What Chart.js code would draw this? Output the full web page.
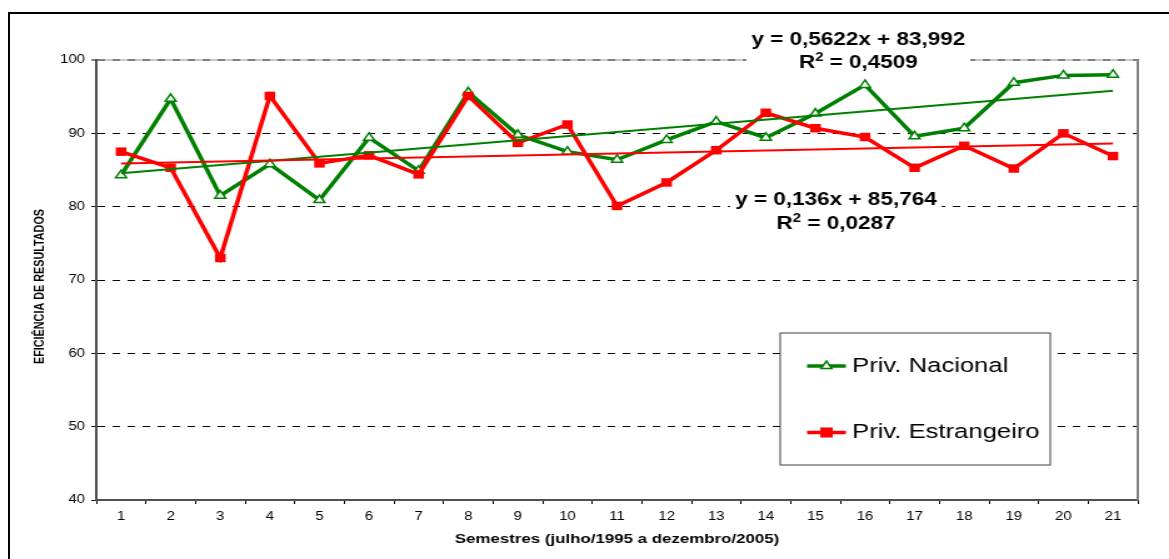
<!DOCTYPE html>
<html>
<head>
<meta charset="utf-8">
<script src="https://cdn.jsdelivr.net/npm/chart.js@4.4.1/dist/chart.umd.min.js"></script>
<style>
    html, body { margin: 0; padding: 0; background: #fff; overflow: hidden; }
    #frame { position: absolute; left: 8px; top: 12px; width: 1200px; height: 600px; border: 2px solid #000; }
    /* the source picture is stretched sideways, so the chart is drawn narrow and scaled */
    #wrap { position: absolute; left: 0; top: 0; width: 935px; height: 559px; transform: scale(1.2503, 1); transform-origin: 0 0; }
</style>
</head>
<body>
<div id="frame"></div>
<div id="wrap"><canvas id="chart" width="935" height="559"></canvas></div>
<script>
// Data
const semestres = ['1', '2', '3', '4', '5', '6', '7', '8', '9', '10', '11',
    '12', '13', '14', '15', '16', '17', '18', '19', '20', '21'];
const privNacional = [84.3, 94.7, 81.5, 85.8, 80.9, 89.4, 84.9, 95.6, 89.8, 87.5, 86.4,
    89.1, 91.6, 89.4, 92.7, 96.6, 89.6, 90.7, 96.9, 97.9, 98.0];
const privEstrangeiro = [87.5, 85.3, 73.0, 95.1, 85.9, 87.0, 84.4, 95.1, 88.7, 91.2, 80.1,
    83.3, 87.7, 92.8, 90.7, 89.5, 85.3, 88.3, 85.2, 90.0, 86.9];
const yTicks = [40, 50, 60, 70, 80, 90, 100];

// Trendlines as printed on the chart: [slope, intercept]
const trendNacional = [0.5622, 83.992];
const trendEstrangeiro = [0.136, 85.764];
const eqNacional = ['y = 0,5622x + 83,992', ' = 0,4509'];
const eqEstrangeiro = ['y = 0,136x + 85,764', ' = 0,0287'];

const FONT = "'Liberation Sans', Arial, sans-serif";

function trendPoints(coef) {
    const first = semestres[0];
    const last = semestres[semestres.length - 1];
    return [
        { x: first, y: coef[0] * Number(first) + coef[1] },
        { x: last, y: coef[0] * Number(last) + coef[1] }
    ];
}

// Equation label with white background
function drawEquation(ctx, cx, base1, base2, lines) {
    ctx.save();
    ctx.font = 'bold 18px ' + FONT;
    const w1 = ctx.measureText(lines[0]).width;
    const wR = ctx.measureText('R').width;
    const wRest = ctx.measureText(lines[1]).width;
    ctx.font = 'bold 12px ' + FONT;
    const w2 = ctx.measureText('2').width;
    const total = wR + w2 + wRest;

    ctx.fillStyle = '#fff';
    ctx.fillRect(cx - w1 / 2 - 4, base1 - 22, w1 + 8, base2 - base1 + 28);

    ctx.fillStyle = '#000';
    ctx.textBaseline = 'alphabetic';
    ctx.textAlign = 'center';
    ctx.font = 'bold 18px ' + FONT;
    ctx.fillText(lines[0], cx, base1);

    ctx.textAlign = 'left';
    let x = cx - total / 2;
    ctx.fillText('R', x, base2);
    x += wR;
    ctx.font = 'bold 12px ' + FONT;
    ctx.fillText('2', x, base2 - 7);
    x += w2;
    ctx.font = 'bold 18px ' + FONT;
    ctx.fillText(lines[1], x, base2);
    ctx.restore();
}

function drawLegendItem(ctx, y, color, pointStyle, radius, fill, text) {
    ctx.save();
    ctx.strokeStyle = color;
    ctx.lineWidth = 3.5;
    ctx.beginPath();
    ctx.moveTo(645.5, y);
    ctx.lineTo(676.5, y);
    ctx.stroke();
    ctx.fillStyle = fill;
    ctx.lineWidth = 1.5;
    Chart.helpers.drawPoint(ctx, { pointStyle: pointStyle, radius: radius, rotation: 0, borderWidth: 1.5 }, 661, y);
    ctx.fillStyle = '#000';
    ctx.font = '20.5px ' + FONT;
    ctx.textAlign = 'left';
    ctx.textBaseline = 'middle';
    ctx.fillText(text, 681.5, y);
    ctx.restore();
}

const decorations = {
    id: 'decorations',
    beforeDraw(chart) {
        const { ctx, chartArea } = chart;
        // light top edge of the plot area, the dashed 100 line goes on top
        ctx.save();
        ctx.strokeStyle = '#c8c8c8';
        ctx.lineWidth = 2;
        ctx.beginPath();
        ctx.moveTo(chartArea.left, chartArea.top);
        ctx.lineTo(chartArea.right, chartArea.top);
        ctx.stroke();
        ctx.restore();
    },
    afterDraw(chart) {
        const { ctx, chartArea } = chart;

        // right edge of the plot area
        ctx.save();
        ctx.strokeStyle = '#808080';
        ctx.lineWidth = 2;
        ctx.beginPath();
        ctx.moveTo(chartArea.right, chartArea.top - 1);
        ctx.lineTo(chartArea.right, chartArea.bottom);
        ctx.stroke();
        ctx.restore();

        drawEquation(ctx, 686.5, 44.7, 68.3, eqNacional);
        drawEquation(ctx, 668.6, 205, 229.3, eqEstrangeiro);

        // legend box
        ctx.save();
        ctx.fillStyle = '#fff';
        ctx.fillRect(624, 333, 216, 132);
        ctx.strokeStyle = '#404040';
        ctx.lineWidth = 1;
        ctx.strokeRect(624, 333, 216, 132);
        ctx.restore();
        drawLegendItem(ctx, 366, '#008000', 'triangle', 5, '#fff', 'Priv. Nacional');
        drawLegendItem(ctx, 432.5, '#ff0000', 'rect', 6, '#ff0000', 'Priv. Estrangeiro');

        // y axis title
        ctx.save();
        ctx.translate(31.6, 286.5);
        ctx.rotate(-Math.PI / 2);
        ctx.fillStyle = '#000';
        ctx.font = 'bold 10.8px ' + FONT;
        ctx.textAlign = 'center';
        ctx.textBaseline = 'middle';
        ctx.fillText('EFICIÊNCIA DE RESULTADOS', 0, 0);
        ctx.restore();
    }
};

const ctx = document.getElementById('chart');

new Chart(ctx, {
    type: 'line',
    data: {
        labels: semestres,
        datasets: [
            {
                label: 'Linear (Priv. Estrangeiro)',
                data: trendPoints(trendEstrangeiro),
                borderColor: '#ff0000',
                borderWidth: 2,
                pointRadius: 0,
                order: 0
            },
            {
                label: 'Linear (Priv. Nacional)',
                data: trendPoints(trendNacional),
                borderColor: '#008000',
                borderWidth: 2,
                pointRadius: 0,
                order: 1
            },
            {
                label: 'Priv. Estrangeiro',
                data: privEstrangeiro,
                borderColor: '#ff0000',
                borderWidth: 3.5,
                pointStyle: 'rect',
                pointRadius: 6,
                pointBackgroundColor: '#ff0000',
                pointBorderColor: '#ff0000',
                pointBorderWidth: 0,
                order: 2
            },
            {
                label: 'Priv. Nacional',
                data: privNacional,
                borderColor: '#008000',
                borderWidth: 3.5,
                pointStyle: 'triangle',
                pointRadius: 5,
                pointBackgroundColor: '#fff',
                pointBorderColor: '#008000',
                pointBorderWidth: 1.5,
                order: 3
            }
        ]
    },
    options: {
        responsive: false,
        animation: false,
        devicePixelRatio: 1,
        layout: {
            padding: { left: 0, right: 25, top: 60, bottom: 0 }
        },
        plugins: {
            legend: { display: false },
            tooltip: { enabled: false }
        },
        scales: {
            x: {
                offset: true,
                grid: {
                    offset: true,
                    drawOnChartArea: false,
                    drawTicks: true,
                    tickLength: 4,
                    color: '#000',
                    lineWidth: 1
                },
                border: { display: true, color: '#505050', width: 2 },
                ticks: {
                    color: '#000',
                    font: { family: FONT, size: 12 },
                    padding: 5,
                    maxRotation: 0,
                    autoSkip: false
                },
                title: {
                    display: true,
                    text: 'Semestres (julho/1995 a dezembro/2005)',
                    color: '#000',
                    font: { family: FONT, size: 13.5, weight: 'bold' },
                    padding: { top: 0, bottom: 12 }
                },
                afterFit: function (scale) {
                    scale.height = 59;
                }
            },
            y: {
                min: 40,
                max: 100,
                afterBuildTicks: function (scale) {
                    scale.ticks = yTicks.map(v => ({ value: v }));
                },
                grid: {
                    color: function (c) {
                        if (c.tick && c.tick.value === 100) return '#808080';
                        if (c.tick && c.tick.value === 40) return 'rgba(0,0,0,0)';
                        return '#000';
                    },
                    lineWidth: function (c) {
                        return c.tick && c.tick.value === 100 ? 2 : 1;
                    },
                    tickLength: 4,
                    tickColor: '#000',
                    tickWidth: 1
                },
                border: { display: true, color: '#505050', width: 2, dash: [6, 6] },
                ticks: {
                    color: '#000',
                    font: { family: FONT, size: 12 },
                    padding: 5
                },
                afterFit: function (scale) {
                    scale.width = 77;
                }
            }
        }
    },
    plugins: [decorations]
});
</script>
</body>
</html>
